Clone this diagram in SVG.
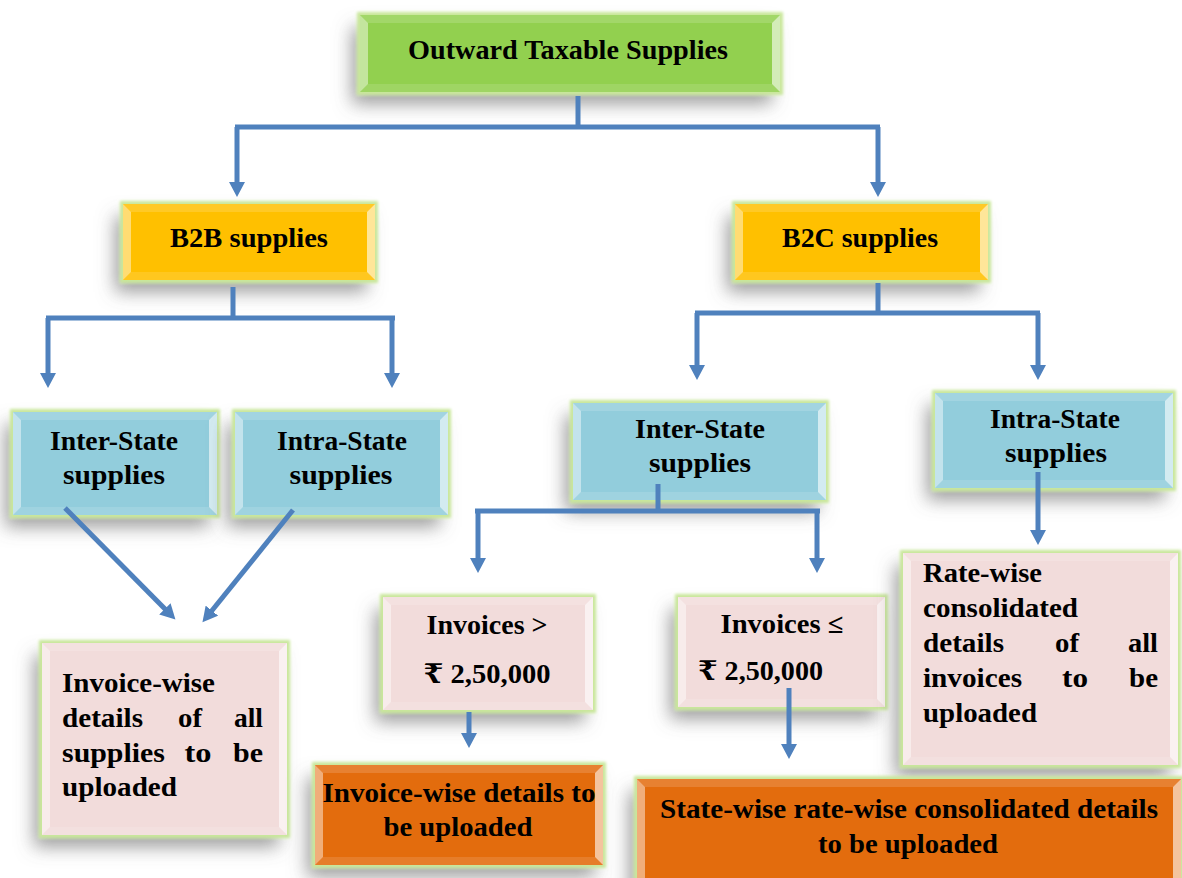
<svg xmlns="http://www.w3.org/2000/svg" width="1182" height="878" viewBox="0 0 1182 878">
<defs>
<style>
.t{font-family:"Liberation Serif","DejaVu Serif",serif;font-weight:bold;fill:#000;font-size:27px}
.c{text-anchor:middle}
.e{text-anchor:end}
.g{fill:#92D050}
.y{fill:#FFC000}
.b{fill:#92CDDC}
.p{fill:#F2DCDB}
.o{fill:#E36C09}
.bl{fill:#fff;opacity:.45}
.br{fill:#fff;opacity:.6}
.bt{fill:#fff;opacity:.15}
.bb{fill:#fff;opacity:.12}
.ln{fill:none;stroke:#4F81BD;stroke-width:5}
.ar{marker-end:url(#ah)}
</style>
<filter id="fx" x="-20%" y="-35%" width="140%" height="180%">
<feGaussianBlur in="SourceAlpha" stdDeviation="9" result="b"/>
<feOffset in="b" dx="-8" dy="12" result="o"/>
<feFlood flood-color="#6a6a6a" flood-opacity="0.65"/>
<feComposite in2="o" operator="in" result="sh"/>
<feMorphology in="SourceAlpha" operator="dilate" radius="3" result="d"/>
<feGaussianBlur in="d" stdDeviation="1.8" result="db"/>
<feFlood flood-color="#c9e79b"/>
<feComposite in2="db" operator="in" result="gl"/>
<feMerge><feMergeNode in="sh"/><feMergeNode in="gl"/><feMergeNode in="SourceGraphic"/></feMerge>
</filter>
<marker id="ah" markerUnits="userSpaceOnUse" markerWidth="16" markerHeight="16" refX="3" refY="8" orient="auto">
<path d="M0,0 L15,8 L0,16 Z" fill="#4F81BD"/>
</marker>
</defs>
<rect width="1182" height="878" fill="#fff"/>

<g id="n-outward">
<rect class="g" x="360" y="15" width="420" height="77" filter="url(#fx)"/>
<polygon class="bl" points="360,15 368,23 368,84 360,92"/>
<polygon class="br" points="780,15 772,23 772,84 780,92"/>
<polygon class="bt" points="360,15 780,15 772,23 368,23"/>
<polygon class="bb" points="360,92 368,84 772,84 780,92"/>
<text class="t c" x="568" y="59" font-size="28" textLength="320" lengthAdjust="spacingAndGlyphs">Outward Taxable Supplies</text>
</g>

<g id="n-b2b">
<rect class="y" x="123" y="204" width="252" height="76" filter="url(#fx)"/>
<polygon class="bl" points="123,204 131,212 131,272 123,280"/>
<polygon class="br" points="375,204 367,212 367,272 375,280"/>
<polygon class="bt" points="123,204 375,204 367,212 131,212"/>
<polygon class="bb" points="123,280 131,272 367,272 375,280"/>
<text class="t c" x="249" y="247" textLength="158" lengthAdjust="spacingAndGlyphs">B2B supplies</text>
</g>

<g id="n-b2c">
<rect class="y" x="735" y="204" width="253" height="76" filter="url(#fx)"/>
<polygon class="bl" points="735,204 743,212 743,272 735,280"/>
<polygon class="br" points="988,204 980,212 980,272 988,280"/>
<polygon class="bt" points="735,204 988,204 980,212 743,212"/>
<polygon class="bb" points="735,280 743,272 980,272 988,280"/>
<text class="t c" x="860" y="247" textLength="156" lengthAdjust="spacingAndGlyphs">B2C supplies</text>
</g>

<g id="n-b2b-inter">
<rect class="b" x="13" y="412" width="204" height="103" filter="url(#fx)"/>
<polygon class="bl" points="13,412 21,420 21,507 13,515"/>
<polygon class="br" points="217,412 209,420 209,507 217,515"/>
<polygon class="bt" points="13,412 217,412 209,420 21,420"/>
<polygon class="bb" points="13,515 21,507 209,507 217,515"/>
<text class="t c" x="114" y="450" textLength="128" lengthAdjust="spacingAndGlyphs">Inter-State</text>
<text class="t c" x="114" y="484" textLength="102" lengthAdjust="spacingAndGlyphs">supplies</text>
</g>

<g id="n-b2b-intra">
<rect class="b" x="235" y="412" width="213" height="103" filter="url(#fx)"/>
<polygon class="bl" points="235,412 243,420 243,507 235,515"/>
<polygon class="br" points="448,412 440,420 440,507 448,515"/>
<polygon class="bt" points="235,412 448,412 440,420 243,420"/>
<polygon class="bb" points="235,515 243,507 440,507 448,515"/>
<text class="t c" x="342" y="450" textLength="130" lengthAdjust="spacingAndGlyphs">Intra-State</text>
<text class="t c" x="341" y="484" textLength="103" lengthAdjust="spacingAndGlyphs">supplies</text>
</g>

<g id="n-b2c-inter">
<rect class="b" x="573" y="403" width="253" height="97" filter="url(#fx)"/>
<polygon class="bl" points="573,403 581,411 581,492 573,500"/>
<polygon class="br" points="826,403 818,411 818,492 826,500"/>
<polygon class="bt" points="573,403 826,403 818,411 581,411"/>
<polygon class="bb" points="573,500 581,492 818,492 826,500"/>
<text class="t c" x="700" y="438" textLength="130" lengthAdjust="spacingAndGlyphs">Inter-State</text>
<text class="t c" x="700" y="472" textLength="102" lengthAdjust="spacingAndGlyphs">supplies</text>
</g>

<g id="n-b2c-intra">
<rect class="b" x="935" y="393" width="238" height="95" filter="url(#fx)"/>
<polygon class="bl" points="935,393 943,401 943,480 935,488"/>
<polygon class="br" points="1173,393 1165,401 1165,480 1173,488"/>
<polygon class="bt" points="935,393 1173,393 1165,401 943,401"/>
<polygon class="bb" points="935,488 943,480 1165,480 1173,488"/>
<text class="t c" x="1055" y="428" textLength="130" lengthAdjust="spacingAndGlyphs">Intra-State</text>
<text class="t c" x="1056" y="462" textLength="102" lengthAdjust="spacingAndGlyphs">supplies</text>
</g>

<g id="n-b2b-details">
<rect class="p" x="42" y="643" width="245" height="192" filter="url(#fx)"/>
<polygon class="bl" points="42,643 50,651 50,827 42,835"/>
<polygon class="br" points="287,643 279,651 279,827 287,835"/>
<polygon class="bt" points="42,643 287,643 279,651 50,651"/>
<polygon class="bb" points="42,835 50,827 279,827 287,835"/>
<text class="t" x="62" y="692" textLength="153" lengthAdjust="spacingAndGlyphs">Invoice-wise</text>
<text class="t" x="62" y="727" textLength="81" lengthAdjust="spacingAndGlyphs">details</text>
<text class="t c" x="190" y="727" textLength="24" lengthAdjust="spacingAndGlyphs">of</text>
<text class="t e" x="263" y="727" textLength="29" lengthAdjust="spacingAndGlyphs">all</text>
<text class="t" x="62" y="762" textLength="103" lengthAdjust="spacingAndGlyphs">supplies</text>
<text class="t c" x="198" y="762" textLength="27" lengthAdjust="spacingAndGlyphs">to</text>
<text class="t e" x="263" y="762" textLength="30" lengthAdjust="spacingAndGlyphs">be</text>
<text class="t" x="62" y="796" textLength="115" lengthAdjust="spacingAndGlyphs">uploaded</text>
</g>

<g id="n-inv-gt">
<rect class="p" x="383" y="597" width="210" height="113" filter="url(#fx)"/>
<polygon class="bl" points="383,597 391,605 391,702 383,710"/>
<polygon class="br" points="593,597 585,605 585,702 593,710"/>
<polygon class="bt" points="383,597 593,597 585,605 391,605"/>
<polygon class="bb" points="383,710 391,702 585,702 593,710"/>
<text class="t c" x="487" y="634" textLength="121" lengthAdjust="spacingAndGlyphs">Invoices &gt;</text>
<text class="t c" x="487" y="683" textLength="127" lengthAdjust="spacingAndGlyphs">₹ 2,50,000</text>
</g>

<g id="n-inv-le">
<rect class="p" x="678" y="597" width="207" height="110" filter="url(#fx)"/>
<polygon class="bl" points="678,597 686,605 686,699 678,707"/>
<polygon class="br" points="885,597 877,605 877,699 885,707"/>
<polygon class="bt" points="678,597 885,597 877,605 686,605"/>
<polygon class="bb" points="678,707 686,699 877,699 885,707"/>
<text class="t c" x="782" y="633" textLength="123" lengthAdjust="spacingAndGlyphs">Invoices ≤</text>
<text class="t" x="698" y="680" textLength="125" lengthAdjust="spacingAndGlyphs">₹ 2,50,000</text>
</g>

<g id="n-ratewise">
<rect class="p" x="903" y="553" width="275" height="212" filter="url(#fx)"/>
<polygon class="bl" points="903,553 911,561 911,757 903,765"/>
<polygon class="br" points="1178,553 1170,561 1170,757 1178,765"/>
<polygon class="bt" points="903,553 1178,553 1170,561 911,561"/>
<polygon class="bb" points="903,765 911,757 1170,757 1178,765"/>
<text class="t" x="923" y="582" textLength="119" lengthAdjust="spacingAndGlyphs">Rate-wise</text>
<text class="t" x="923" y="617" textLength="155" lengthAdjust="spacingAndGlyphs">consolidated</text>
<text class="t" x="923" y="652" textLength="81" lengthAdjust="spacingAndGlyphs">details</text>
<text class="t c" x="1067" y="652" textLength="24" lengthAdjust="spacingAndGlyphs">of</text>
<text class="t e" x="1158" y="652" textLength="30" lengthAdjust="spacingAndGlyphs">all</text>
<text class="t" x="923" y="687" textLength="99" lengthAdjust="spacingAndGlyphs">invoices</text>
<text class="t c" x="1075" y="687" textLength="26" lengthAdjust="spacingAndGlyphs">to</text>
<text class="t e" x="1158" y="687" textLength="29" lengthAdjust="spacingAndGlyphs">be</text>
<text class="t" x="923" y="722" textLength="114" lengthAdjust="spacingAndGlyphs">uploaded</text>
</g>

<g id="n-out-invoice">
<rect class="o" x="315" y="765" width="288" height="100" filter="url(#fx)"/>
<polygon class="bl" points="315,765 323,773 323,857 315,865"/>
<polygon class="br" points="603,765 595,773 595,857 603,865"/>
<polygon class="bt" points="315,765 603,765 595,773 323,773"/>
<polygon class="bb" points="315,865 323,857 595,857 603,865"/>
<text class="t c" x="459" y="802" font-size="28" textLength="273" lengthAdjust="spacingAndGlyphs">Invoice-wise details to</text>
<text class="t c" x="458" y="836" font-size="28" textLength="149" lengthAdjust="spacingAndGlyphs">be uploaded</text>
</g>

<g id="n-out-state">
<rect class="o" x="637" y="779" width="544" height="111" filter="url(#fx)"/>
<polygon class="bl" points="637,779 645,787 645,882 637,890"/>
<polygon class="br" points="1181,779 1173,787 1173,882 1181,890"/>
<polygon class="bt" points="637,779 1181,779 1173,787 645,787"/>
<text class="t c" x="909" y="818" font-size="28" textLength="498" lengthAdjust="spacingAndGlyphs">State-wise rate-wise consolidated details</text>
<text class="t c" x="908" y="853" font-size="28" textLength="180" lengthAdjust="spacingAndGlyphs">to be uploaded</text>
</g>

<g id="connectors">
<path class="ln" d="M578,96 V127 M235,127 H880"/>
<path class="ln ar" d="M237,127 V185"/>
<path class="ln ar" d="M878,127 V185"/>
<path class="ln" d="M233,287 V318 M46,318 H395"/>
<path class="ln ar" d="M48,318 V376"/>
<path class="ln ar" d="M392,318 V376"/>
<path class="ln" d="M878,283 V313 M695,313 H1040"/>
<path class="ln ar" d="M697,313 V368"/>
<path class="ln ar" d="M1038,313 V368"/>
<path class="ln" d="M658,484 V511 M475,511 H820"/>
<path class="ln ar" d="M478,511 V561"/>
<path class="ln ar" d="M817,511 V561"/>
<path class="ln ar" d="M1038,472 V533"/>
<path class="ln ar" d="M65,508 L167,611"/>
<path class="ln ar" d="M293,510 L210,613"/>
<path class="ln ar" d="M469,712 V736"/>
<path class="ln ar" d="M789,688 V747"/>
</g>
</svg>
